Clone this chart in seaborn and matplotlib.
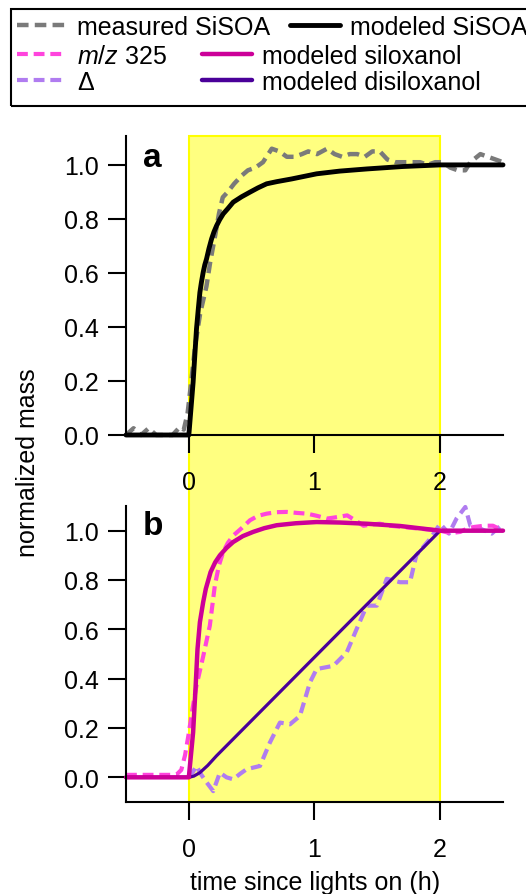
import numpy as np
import pandas as pd
import matplotlib
matplotlib.use("Agg")
import matplotlib.pyplot as plt
from matplotlib.lines import Line2D
from matplotlib.patches import Rectangle
import seaborn as sns

# ---- panel a : SiSOA ----
meas_a_t = [-0.5, -0.44, -0.38, -0.32, -0.26, -0.2, -0.13, -0.07, -0.04, -0.01, 0.02, 0.05,
            0.09, 0.14, 0.17, 0.21, 0.24, 0.27, 0.31, 0.36, 0.42, 0.47, 0.53, 0.59, 0.66,
            0.72, 0.78, 0.84, 0.9, 0.95, 1.02, 1.1, 1.16, 1.22, 1.28, 1.34, 1.4, 1.46, 1.52,
            1.58, 1.64, 1.7, 1.77, 1.84, 1.9, 1.96, 2.02, 2.08, 2.14, 2.2, 2.24, 2.32, 2.38,
            2.44, 2.5]
meas_a_y = [0.0, 0.025, 0.0, 0.025, 0.0, 0.0, 0.0, 0.03, 0.02, 0.08, 0.2, 0.33,
            0.45, 0.55, 0.64, 0.74, 0.82, 0.88, 0.9, 0.93, 0.96, 0.98, 0.99, 1.01, 1.06,
            1.05, 1.03, 1.03, 1.04, 1.05, 1.04, 1.06, 1.04, 1.03, 1.04, 1.04, 1.03, 1.05, 1.05,
            1.02, 1.01, 1.01, 1.01, 1.01, 1.0, 1.01, 1.01, 0.99, 0.98, 0.98, 1.01, 1.04, 1.03,
            1.02, 1.01]
model_a_t = [-0.5, 0.0, 0.034, 0.061, 0.075, 0.088, 0.1, 0.114, 0.127, 0.141, 0.16, 0.181,
             0.2, 0.221, 0.245, 0.274, 0.31, 0.353, 0.42, 0.486, 0.55, 0.619, 0.7, 0.818,
             1.017, 1.2, 1.416, 1.7, 2.0, 2.5]
model_a_y = [0.0, 0.0, 0.195, 0.393, 0.465, 0.528, 0.565, 0.602, 0.63, 0.652, 0.69, 0.726,
             0.752, 0.775, 0.797, 0.819, 0.838, 0.862, 0.882, 0.899, 0.915, 0.93, 0.938, 0.948,
             0.967, 0.977, 0.985, 0.994, 1.0, 1.0]

# ---- panel b : m/z 325, delta and the two modeled products ----
mz_t = [-0.5, -0.4, -0.3, -0.2, -0.1, -0.06, -0.03, 0.0, 0.03, 0.06, 0.114, 0.167, 0.207,
        0.24, 0.273, 0.31, 0.353, 0.42, 0.486, 0.55, 0.62, 0.7, 0.78, 0.86, 0.94, 1.02,
        1.1, 1.18, 1.26, 1.33, 1.39, 1.45, 1.52, 1.6, 1.7, 1.8, 1.9, 2.0, 2.08, 2.16,
        2.22, 2.27, 2.35, 2.42, 2.5]
mz_y = [0.01, 0.01, 0.01, 0.01, 0.01, 0.03, 0.09, 0.18, 0.28, 0.37, 0.49, 0.615, 0.778,
        0.86, 0.913, 0.95, 0.98, 1.01, 1.042, 1.06, 1.069, 1.075, 1.076, 1.072, 1.069, 1.06,
        1.049, 1.055, 1.062, 1.04, 1.02, 1.025, 1.028, 1.02, 1.015, 1.01, 1.005, 1.0, 0.99,
        0.995, 1.01, 1.015, 1.02, 1.02, 1.0]
delta_t = [0.0, 0.03, 0.061, 0.1, 0.141, 0.194, 0.247, 0.3, 0.353, 0.41, 0.46, 0.566, 0.645,
           0.725, 0.805, 0.884, 0.964, 1.017, 1.15, 1.257, 1.336, 1.416, 1.496, 1.575, 1.68,
           1.76, 1.81, 1.92, 2.0, 2.07, 2.13, 2.2, 2.24, 2.32, 2.41, 2.5]
delta_y = [0.0, 0.02, 0.046, 0.01, -0.02, -0.056, 0.019, 0.0, -0.008, 0.015, 0.033, 0.046,
           0.141, 0.222, 0.215, 0.249, 0.385, 0.439, 0.452, 0.507, 0.602, 0.696, 0.696,
           0.805, 0.791, 0.791, 0.9, 0.967, 1.028, 0.988, 1.049, 1.096, 1.02, 1.008, 0.988,
           1.028]
silox_t = [-0.5, 0.0, 0.034, 0.053, 0.069, 0.088, 0.114, 0.135, 0.173, 0.21, 0.247, 0.3,
           0.353, 0.43, 0.512, 0.6, 0.699, 0.85, 1.017, 1.2, 1.42, 1.68, 2.0, 2.5]
silox_y = [0.0, 0.0, 0.182, 0.358, 0.52, 0.629, 0.71, 0.764, 0.832, 0.872, 0.9, 0.93,
           0.954, 0.978, 0.995, 1.01, 1.022, 1.03, 1.035, 1.033, 1.028, 1.019, 1.0, 1.0]
disil_t = [-0.5, 0.0, 0.04, 0.088, 0.15, 0.22, 2.0, 2.5]
disil_y = [0.0, 0.0, 0.005, 0.019, 0.048, 0.087, 1.0, 1.0]

lights_on = (0.0, 2.0)
x_ticks = [0, 1, 2]
y_ticks = [0.0, 0.2, 0.4, 0.6, 0.8, 1.0]

C_GRAY, C_BLACK = "#7a7a7a", "black"
C_PINK, C_MAGENTA = "#ff44dd", "#cc0099"
C_LAVENDER, C_INDIGO = "#b07cf0", "#4a0099"
DASH = (0, (2.6, 1.4))

sns.set_theme(style="ticks")
plt.rcParams["font.family"] = ["Liberation Sans", "DejaVu Sans"]
plt.rcParams["mathtext.fontset"] = "custom"
plt.rcParams["mathtext.it"] = "Liberation Sans:italic"
plt.rcParams["mathtext.rm"] = "Liberation Sans"
plt.rcParams["text.color"] = "black"
plt.rcParams["axes.labelcolor"] = "black"
FS = 18

W, H = 526, 895
fig = plt.figure(figsize=(W / 100, H / 100), dpi=100)
fig.patch.set_facecolor("white")
ax_a = fig.add_axes([126 / W, 1 - 436 / H, 377 / W, 299 / H])
ax_b = fig.add_axes([126 / W, 1 - 803 / H, 377 / W, 296 / H])


def draw(ax, t, y, color, lw, ls="-"):
    sns.lineplot(x=t, y=y, ax=ax, color=color, linewidth=lw, linestyle=ls,
                 errorbar=None, clip_on=False)


draw(ax_a, meas_a_t, meas_a_y, C_GRAY, 3.2, DASH)
draw(ax_a, model_a_t, model_a_y, C_BLACK, 3.5)

draw(ax_b, delta_t, delta_y, C_LAVENDER, 3.0, DASH)
draw(ax_b, mz_t, mz_y, C_PINK, 3.0, DASH)
draw(ax_b, disil_t, disil_y, C_INDIGO, 2.3)
draw(ax_b, silox_t, silox_y, C_MAGENTA, 3.2)

ax_a.set_ylim(0, 1.107)
ax_b.set_ylim(-0.1, 1.1)
for ax, lab, base in [(ax_a, "a", 0.9), (ax_b, "b", 0.905)]:
    ax.set_xlim(-0.5, 2.5)
    ax.set_facecolor("none")
    ax.set_xticks(x_ticks)
    ax.set_yticks(y_ticks)
    ax.set_xticklabels([str(v) for v in x_ticks])
    ax.set_yticklabels([f"{v:.1f}" for v in y_ticks])
    ax.set_xlabel("")
    ax.set_ylabel("")
    sns.despine(ax=ax)
    for s in ["left", "bottom"]:
        ax.spines[s].set_linewidth(1.5)
        ax.spines[s].set_color("black")
    ax.tick_params(axis="both", direction="out", length=13, width=1.5,
                   labelsize=FS, colors="black")
    ax.tick_params(axis="x", pad=12)
    ax.tick_params(axis="y", pad=6.5)
    ax.text(0.045, base, lab, transform=ax.transAxes, fontsize=24,
            fontweight="bold", va="baseline", ha="left")

# yellow "lights on" band spanning both panels
inv = fig.transFigure.inverted()
x0 = inv.transform(ax_a.transData.transform((lights_on[0], 0)))[0]
x1 = inv.transform(ax_a.transData.transform((lights_on[1], 0)))[0]
y_top = inv.transform(ax_a.transAxes.transform((0, 1)))[1]
y_bot = inv.transform(ax_b.transAxes.transform((0, 0)))[1]
fig.add_artist(Rectangle((x0, y_bot), x1 - x0, y_top - y_bot, transform=fig.transFigure,
                         facecolor="#ffff80", edgecolor="#ffff00", linewidth=1.5,
                         zorder=-5))

fig.text(28 / W, 1 - 463 / H, "normalized mass", rotation=90, fontsize=FS,
         ha="center", va="center")
fig.text(315 / W, 1 - 890 / H, "time since lights on (h)", fontsize=FS,
         ha="center", va="baseline")

# legend: first row and the two lower rows are laid out separately
def handle(color, lw, ls):
    return Line2D([], [], color=color, linewidth=lw, linestyle=ls)


leg_kw = dict(frameon=False, borderpad=0, borderaxespad=0, handlelength=2.0,
              handletextpad=0.4, fontsize=FS, loc="center left")
fig.legend([handle(C_GRAY, 3.2, DASH), handle(C_BLACK, 3.5, "-")],
           ["measured SiSOA", "modeled SiSOA"], ncol=2, columnspacing=0.8,
           bbox_to_anchor=(17 / W, 1 - 28 / H), **leg_kw)
fig.legend([handle(C_PINK, 3.0, DASH), handle(C_LAVENDER, 3.0, DASH),
            handle(C_MAGENTA, 3.2, "-"), handle(C_INDIGO, 3.2, "-")],
           ["$m/z$ 325", "Δ", "modeled siloxanol", "modeled disiloxanol"],
           ncol=2, columnspacing=1.4, labelspacing=0.09,
           bbox_to_anchor=(17 / W, 1 - 70 / H), **leg_kw)
fig.add_artist(Rectangle((11 / W, 1 - 107 / H), 1.0, 97 / H, transform=fig.transFigure,
                         fill=False, edgecolor="black", linewidth=1.5))

fig.savefig("out.png", dpi=100)
